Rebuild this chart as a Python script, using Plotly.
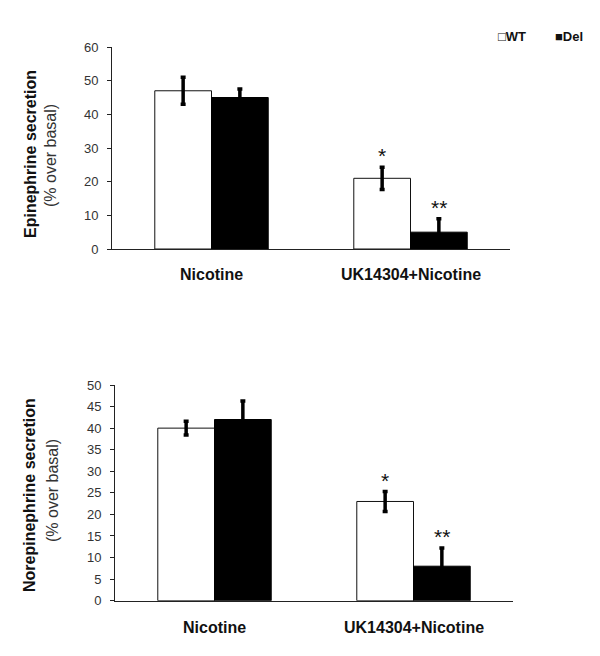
import plotly.graph_objects as go

categories = ["Nicotine", "UK14304+Nicotine"]
groups = ["WT", "Del"]

epi_wt = [47, 21]
epi_wt_err = [4, 3.3]
epi_del = [45, 5]
epi_del_err = [2.5, 4]

nor_wt = [40, 23]
nor_wt_err = [1.6, 2.3]
nor_del = [42, 8]
nor_del_err = [4.3, 4.2]

epi_ticks = [0, 10, 20, 30, 40, 50, 60]
nor_ticks = [0, 5, 10, 15, 20, 25, 30, 35, 40, 45, 50]

sig_wt = ["", "*"]
sig_del = ["", "**"]

FONT = "Liberation Sans, Arial, DejaVu Sans, sans-serif"
OFF = 8  # page body margin
W, H = 600 - OFF, 656 - OFF

fig = go.Figure()

def add_pair(wt, wt_err, de, de_err, xa, ya):
    fig.add_trace(go.Bar(
        x=categories, y=wt, name=groups[0], xaxis=xa, yaxis=ya,
        marker=dict(color="white", line=dict(color="#111", width=1)),
        error_y=dict(type="data", array=wt_err, visible=True, color="black", thickness=3.5, width=2.5),
        showlegend=False))
    fig.add_trace(go.Bar(
        x=categories, y=de, name=groups[1], xaxis=xa, yaxis=ya,
        marker=dict(color="black", line=dict(color="black", width=1)),
        error_y=dict(type="data", array=de_err, visible=True, color="black", thickness=3.5, width=2.5),
        showlegend=False))

add_pair(epi_wt, epi_wt_err, epi_del, epi_del_err, "x", "y")
add_pair(nor_wt, nor_wt_err, nor_del, nor_del_err, "x2", "y2")

def px_x(p):
    return (p - OFF) / W

def px_y(p):
    return 1 - (p - OFF) / H

axis_common = dict(showline=True, linecolor="#222", linewidth=1, showgrid=False, zeroline=False,
                   tickfont=dict(family=FONT, size=13, color="#333"))

fig.update_layout(
    width=W, height=H,
    margin=dict(l=0, r=0, t=0, b=0, autoexpand=False),
    paper_bgcolor="white", plot_bgcolor="white",
    barmode="group", bargap=0.43, bargroupgap=0,
    font=dict(family=FONT, color="black"),
    showlegend=False,
    xaxis=dict(domain=[px_x(112), px_x(510)], anchor="y", ticks="", showticklabels=False, **axis_common),
    yaxis=dict(domain=[px_y(249), px_y(47)], anchor="x", range=[0, 60], tickvals=epi_ticks,
               ticks="outside", ticklen=4, tickcolor="#222", ticklabelstandoff=6, **axis_common),
    xaxis2=dict(domain=[px_x(115), px_x(513)], anchor="y2", ticks="", showticklabels=False, **axis_common),
    yaxis2=dict(domain=[px_y(600.7), px_y(385)], anchor="x2", range=[0, 50], tickvals=nor_ticks,
                ticks="outside", ticklen=4, tickcolor="#222", ticklabelstandoff=6, **axis_common),
)

ann = []
# legend (as text with square glyphs)
for xpix, label in ((496, "\u25a1WT"), (553, "\u25a0Del")):
    ann.append(dict(x=px_x(xpix), y=px_y(37), xref="paper", yref="paper", text="<b>%s</b>" % label,
                    showarrow=False, xanchor="left", yanchor="middle",
                    font=dict(family=FONT, size=13, color="#111")))

# category labels
for xa, ypix in (("x", 275), ("x2", 627)):
    for c in categories:
        ann.append(dict(x=c, xref=xa, y=px_y(ypix), yref="paper", text="<b>%s</b>" % c,
                        showarrow=False, font=dict(family=FONT, size=16, color="#111"),
                        xanchor="center", yanchor="middle"))

# significance marks
def add_sig(vals, errs, marks, xa, ya, shift):
    for c, v, e, m in zip(categories, vals, errs, marks):
        if m:
            ann.append(dict(x=c, xref=xa, y=v + e, yref=ya, text=m, showarrow=False,
                            xshift=shift, yshift=-2, yanchor="bottom", xanchor="center",
                            font=dict(family=FONT, size=21, color="#111")))

add_sig(epi_wt, epi_wt_err, sig_wt, "x", "y", -28.5)
add_sig(epi_del, epi_del_err, sig_del, "x", "y", 28.5)
add_sig(nor_wt, nor_wt_err, sig_wt, "x2", "y2", -28.5)
add_sig(nor_del, nor_del_err, sig_del, "x2", "y2", 28.5)

# y-axis titles
for (x1, y1, t1), (x2, y2, t2) in (
    ((30, 154, "Epinephrine secretion"), (50, 156, "(% over basal)")),
    ((29, 495, "Norepinephrine secretion"), (52, 491, "(% over basal)")),
):
    ann.append(dict(x=px_x(x1), y=px_y(y1), xref="paper", yref="paper", text="<b>%s</b>" % t1,
                    textangle=-90, showarrow=False, xanchor="center", yanchor="middle",
                    font=dict(family=FONT, size=16, color="#111")))
    ann.append(dict(x=px_x(x2), y=px_y(y2), xref="paper", yref="paper", text=t2,
                    textangle=-90, showarrow=False, xanchor="center", yanchor="middle",
                    font=dict(family=FONT, size=16, color="#333")))

fig.update_layout(annotations=ann)

fig.write_html("out.html")
